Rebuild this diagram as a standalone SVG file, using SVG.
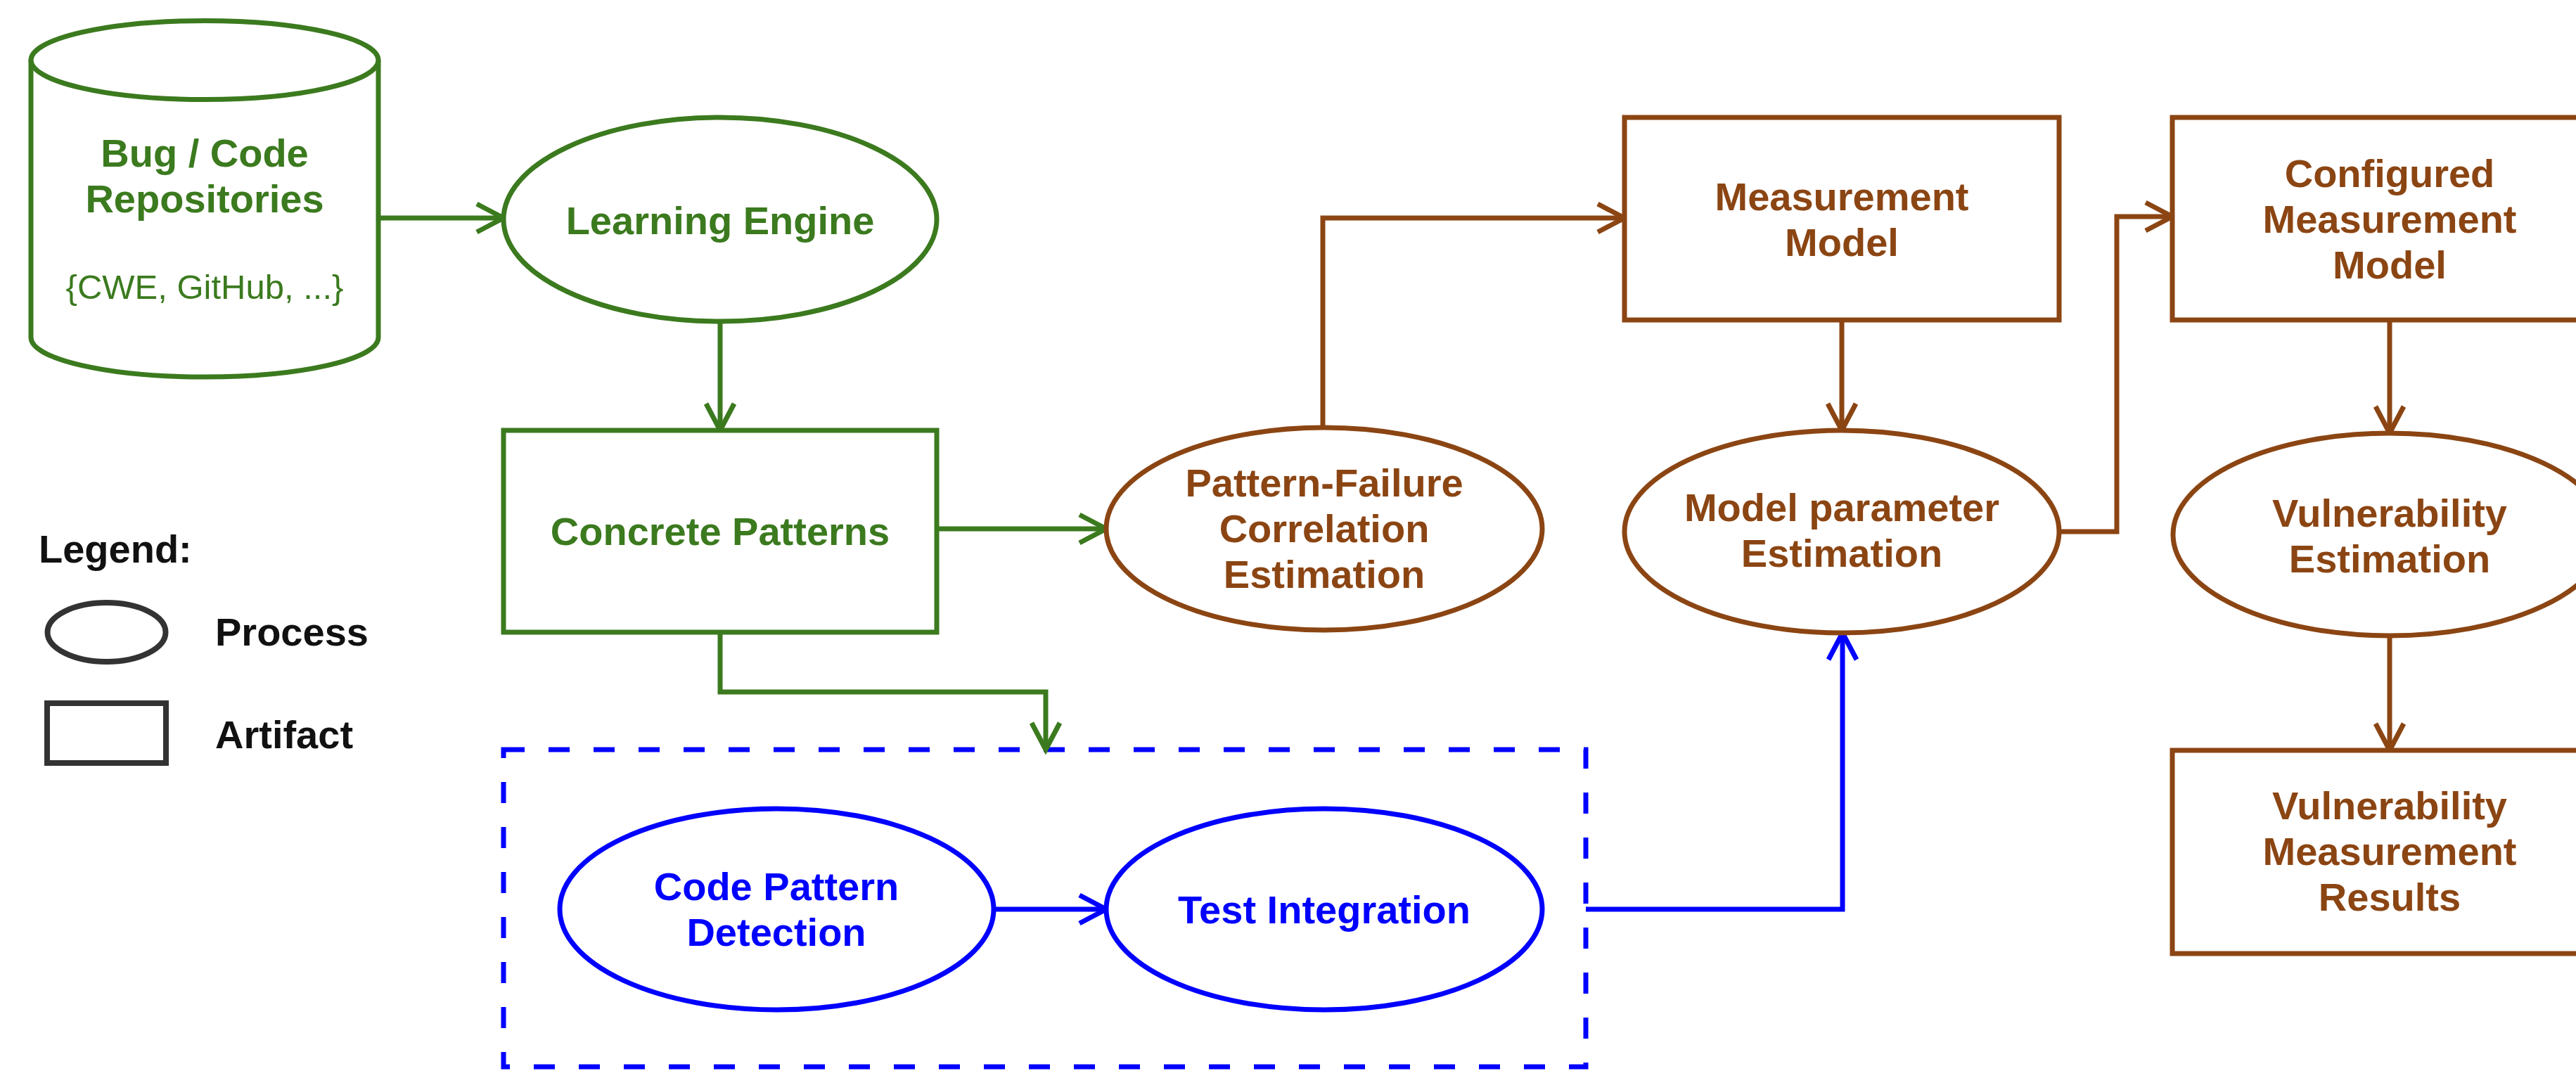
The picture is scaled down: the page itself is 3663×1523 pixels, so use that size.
<svg xmlns="http://www.w3.org/2000/svg" width="3663" height="1523" viewBox="0 0 3663 1523">
  <style>
    .t { font-family: "Liberation Sans", Arial, sans-serif; font-weight: bold; font-size: 56px; text-anchor: middle; }
    .g { fill: #3b7a1e; }
    .b { fill: #8b4513; }
    .u { fill: #0000ff; }
    .k { fill: #111111; }
    .sg { fill: #ffffff; stroke: #3b7a1e; stroke-width: 7; }
    .sb { fill: #ffffff; stroke: #8b4513; stroke-width: 7; }
    .su { fill: #ffffff; stroke: #0000ff; stroke-width: 7; }
    .cg { fill: none; stroke: #3b7a1e; stroke-width: 7; }
    .cb { fill: none; stroke: #8b4513; stroke-width: 7; }
    .cu { fill: none; stroke: #0000ff; stroke-width: 7; }
  </style>
  <defs>
    <marker id="arrG" markerUnits="userSpaceOnUse" viewBox="0 0 50 50" markerWidth="50" markerHeight="50" refX="42" refY="25" orient="auto">
      <path d="M4,5 L42,25 L4,45" fill="none" stroke="#3b7a1e" stroke-width="7"/>
    </marker>
    <marker id="arrB" markerUnits="userSpaceOnUse" viewBox="0 0 50 50" markerWidth="50" markerHeight="50" refX="42" refY="25" orient="auto">
      <path d="M4,5 L42,25 L4,45" fill="none" stroke="#8b4513" stroke-width="7"/>
    </marker>
    <marker id="arrU" markerUnits="userSpaceOnUse" viewBox="0 0 50 50" markerWidth="50" markerHeight="50" refX="42" refY="25" orient="auto">
      <path d="M4,5 L42,25 L4,45" fill="none" stroke="#0000ff" stroke-width="7"/>
    </marker>
  </defs>
  <rect width="3663" height="1523" fill="#ffffff"/>

  <!-- dashed container around the detection / integration processes -->
  <g id="test-group">
    <rect x="716" y="1066" width="1539" height="451" fill="none" stroke="#0000ff" stroke-width="7" stroke-dasharray="30 34"/>
  </g>

  <!-- connectors -->
  <g id="connectors">
    <path class="cg" d="M538,310 H716" marker-end="url(#arrG)"/>
    <path class="cg" d="M1024,457 V612" marker-end="url(#arrG)"/>
    <path class="cg" d="M1332,752 H1573" marker-end="url(#arrG)"/>
    <path class="cg" d="M1024,899 V984 H1487 V1066" marker-end="url(#arrG)"/>
    <path class="cb" d="M1881,608 V310 H2310" marker-end="url(#arrB)"/>
    <path class="cb" d="M2619,455 V612" marker-end="url(#arrB)"/>
    <path class="cb" d="M2928,756 H3010 V308 H3089" marker-end="url(#arrB)"/>
    <path class="cb" d="M3398,455 V616" marker-end="url(#arrB)"/>
    <path class="cb" d="M3398,904 V1067" marker-end="url(#arrB)"/>
    <path class="cu" d="M1413,1293 H1573" marker-end="url(#arrU)"/>
    <path class="cu" d="M2255,1293 H2620 V900" marker-end="url(#arrU)"/>
  </g>

  <!-- repository cylinder -->
  <g id="repositories">
    <path class="sg" d="M44,85.5 V480 A247,56 0 0 0 538,480 V85.5"/>
    <ellipse class="sg" cx="291" cy="85.5" rx="247" ry="56"/>
    <text class="t g" x="291" y="237">Bug / Code</text>
    <text class="t g" x="291" y="302">Repositories</text>
    <text class="g" x="291" y="425" font-family="Liberation Sans, Arial, sans-serif" font-size="49" text-anchor="middle">{CWE, GitHub, ...}</text>
  </g>

  <g id="learning-engine">
    <ellipse class="sg" cx="1024" cy="312" rx="308" ry="145"/>
    <text class="t g" x="1024" y="333">Learning Engine</text>
  </g>

  <g id="concrete-patterns">
    <rect class="sg" x="716" y="612" width="616" height="287"/>
    <text class="t g" x="1024" y="775">Concrete Patterns</text>
  </g>

  <g id="pattern-failure">
    <ellipse class="sb" cx="1883" cy="752" rx="310" ry="144"/>
    <text class="t b" x="1883" y="706">Pattern-Failure</text>
    <text class="t b" x="1883" y="771">Correlation</text>
    <text class="t b" x="1883" y="836">Estimation</text>
  </g>

  <g id="measurement-model">
    <rect class="sb" x="2310" y="167" width="618" height="288"/>
    <text class="t b" x="2619" y="299">Measurement</text>
    <text class="t b" x="2619" y="364">Model</text>
  </g>

  <g id="model-parameter">
    <ellipse class="sb" cx="2619" cy="756" rx="309" ry="144"/>
    <text class="t b" x="2619" y="741">Model parameter</text>
    <text class="t b" x="2619" y="806">Estimation</text>
  </g>

  <g id="configured-model">
    <rect class="sb" x="3089" y="167" width="618" height="288"/>
    <text class="t b" x="3398" y="266">Configured</text>
    <text class="t b" x="3398" y="331">Measurement</text>
    <text class="t b" x="3398" y="396">Model</text>
  </g>

  <g id="vulnerability-estimation">
    <ellipse class="sb" cx="3398" cy="760" rx="308" ry="144"/>
    <text class="t b" x="3398" y="749">Vulnerability</text>
    <text class="t b" x="3398" y="814">Estimation</text>
  </g>

  <g id="measurement-results">
    <rect class="sb" x="3089" y="1067" width="618" height="289"/>
    <text class="t b" x="3398" y="1165">Vulnerability</text>
    <text class="t b" x="3398" y="1230">Measurement</text>
    <text class="t b" x="3398" y="1295">Results</text>
  </g>

  <g id="code-pattern-detection">
    <ellipse class="su" cx="1104.5" cy="1293" rx="308.5" ry="143"/>
    <text class="t u" x="1104" y="1280">Code Pattern</text>
    <text class="t u" x="1104" y="1345">Detection</text>
  </g>

  <g id="test-integration">
    <ellipse class="su" cx="1883" cy="1293" rx="310" ry="143"/>
    <text class="t u" x="1883" y="1313">Test Integration</text>
  </g>

  <!-- legend -->
  <g id="legend">
    <text class="t k" x="55" y="800" style="text-anchor:start">Legend:</text>
    <ellipse cx="151.5" cy="899" rx="84" ry="42" fill="#ffffff" stroke="#333333" stroke-width="8"/>
    <text class="t k" x="306" y="918" style="text-anchor:start">Process</text>
    <rect x="67" y="1000" width="169" height="85" fill="#ffffff" stroke="#333333" stroke-width="8"/>
    <text class="t k" x="306" y="1064" style="text-anchor:start">Artifact</text>
  </g>
</svg>
